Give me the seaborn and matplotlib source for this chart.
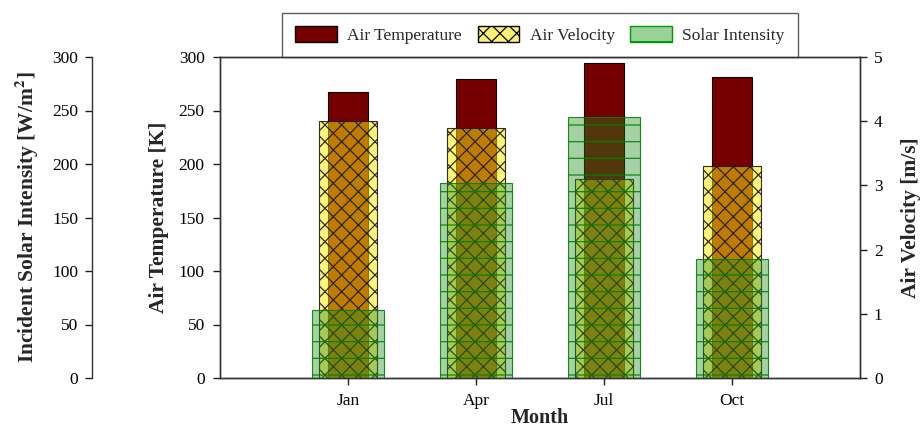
import matplotlib
matplotlib.use("Agg")
import matplotlib.pyplot as plt
from matplotlib.patches import Patch
import seaborn as sns

months = ["Jan", "Apr", "Jul", "Oct"]
air_temperature = [267.5, 279.5, 294.5, 281.5]   # K
air_velocity = [4.0, 3.9, 3.1, 3.3]              # m/s
solar_intensity = [64, 182, 244, 111]            # W/m^2

sns.set_style("ticks")
plt.rcParams["font.family"] = ["Liberation Serif", "DejaVu Serif"]
plt.rcParams["mathtext.fontset"] = "stix"
plt.rcParams["hatch.linewidth"] = 0.9
plt.rcParams["axes.edgecolor"] = "#333333"
plt.rcParams["axes.linewidth"] = 1.0

red = "#760000"
yellow_face = (1.0, 0.93, 0.0, 0.53)
green_face = (0.12, 0.55, 0.12, 0.40)
green_edge = (0.0, 0.5, 0.0, 0.9)

fig = plt.figure(figsize=(9.22, 4.29), dpi=100)
ax = fig.add_axes([220 / 922, 51 / 429, 640 / 922, 321 / 429])
ax2 = ax.twinx()
ax3 = ax.twinx()

sns.barplot(x=months, y=air_temperature, ax=ax, color=red, saturation=1,
            width=0.32, edgecolor="black", linewidth=0.8)
sns.barplot(x=months, y=air_velocity, ax=ax2, color="yellow", saturation=1,
            width=0.45, edgecolor="black", linewidth=0.8)
sns.barplot(x=months, y=solar_intensity, ax=ax3, color="green", saturation=1,
            width=0.56, edgecolor="green", linewidth=0.8)

for p in ax.patches:
    p.set_facecolor(red)
    p.set_edgecolor("black")
for p in ax2.patches:
    p.set_facecolor(yellow_face)
    p.set_edgecolor((0.1, 0.1, 0.1, 0.9))
    p.set_hatch("xx")
for p in ax3.patches:
    p.set_facecolor(green_face)
    p.set_edgecolor(green_edge)
    p.set_hatch("-")

ax.set_xlim(-1, 4)
ax.set_ylim(0, 300)
ax2.set_ylim(0, 5)
ax3.set_ylim(0, 300)

ax.set_yticks(range(0, 301, 50))
ax2.set_yticks(range(0, 6, 1))
ax3.set_yticks(range(0, 301, 50))

# solar axis on far left
ax3.spines["left"].set_position(("axes", -128 / 640))
ax3.spines["left"].set_visible(True)
ax3.spines["right"].set_visible(False)
ax3.spines["top"].set_visible(False)
ax3.spines["bottom"].set_visible(False)
ax3.yaxis.set_ticks_position("left")
ax3.yaxis.set_label_position("left")

for a in (ax, ax2, ax3):
    for s in a.spines.values():
        s.set_color("#333333")
    a.tick_params(direction="out", length=5, width=1.0, labelsize=12.5,
                  colors="#222222")
    for t in a.get_yticklabels() + a.get_xticklabels():
        t.set_color("black")

ax.tick_params(axis="y", pad=6)
ax3.tick_params(axis="y", pad=5)
ax2.tick_params(axis="y", pad=5)
ax.tick_params(axis="x", pad=6, labelsize=12.5)

lab = dict(fontsize=15.5, fontweight="bold")
ax.set_xlabel("Month", fontsize=14.5, fontweight="bold", labelpad=0)
ax.xaxis.set_label_coords(0.5, -0.092)
ax.set_ylabel("Air Temperature [K]", labelpad=7, **lab)
ax2.set_ylabel("Air Velocity [m/s]", labelpad=13, **lab)
ax3.set_ylabel("Incident Solar Intensity [W/m$^\\mathbf{2}$]", labelpad=8, **lab)

handles = [
    Patch(facecolor=red, edgecolor="black", label="Air Temperature"),
    Patch(facecolor=(1.0, 0.95, 0.45), edgecolor="black", hatch="xx", label="Air Velocity"),
    Patch(facecolor=(0.6, 0.82, 0.6), edgecolor=(0.0, 0.6, 0.0), hatch="-", label="Solar Intensity"),
]
leg = ax.legend(handles=handles, loc="lower center", bbox_to_anchor=(0.5, 1.0),
                ncol=3, frameon=True, fancybox=False, fontsize=12.5,
                borderaxespad=0, handlelength=2.4, handleheight=1.05,
                columnspacing=0.9, handletextpad=0.6, borderpad=0.75)
leg.get_frame().set_edgecolor("#333333")
leg.get_frame().set_linewidth(1.0)

fig.savefig("out.png", dpi=100)
